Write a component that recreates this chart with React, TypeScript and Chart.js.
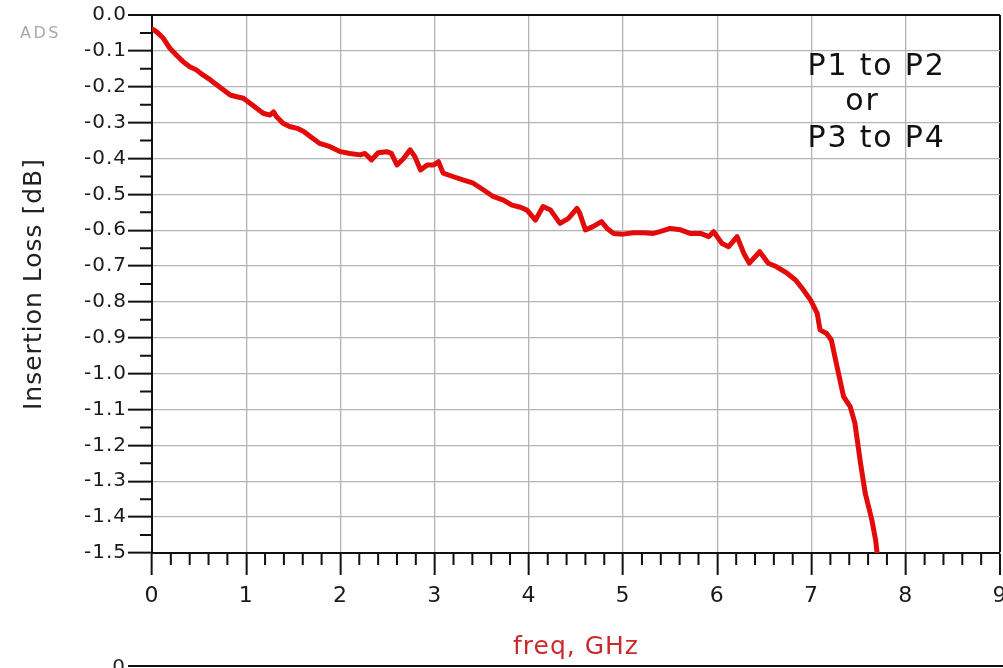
import React, { useEffect, useRef } from "react";
import { Chart, registerables } from "chart.js";

Chart.register(...registerables);

// ---- data ----
const freqGHz = [
  0.01, 0.05, 0.12, 0.19, 0.26, 0.33, 0.4, 0.47, 0.54, 0.62, 0.69, 0.76, 0.83, 0.9, 0.97,
  1.04, 1.11, 1.18, 1.25, 1.29, 1.32, 1.39, 1.46, 1.54, 1.61, 1.68, 1.78, 1.89,
  2.0, 2.1, 2.21, 2.26, 2.33, 2.4, 2.49, 2.54, 2.6, 2.67, 2.74, 2.79, 2.85, 2.92, 2.99,
  3.04, 3.09, 3.2, 3.3, 3.41, 3.52, 3.62, 3.73, 3.82, 3.91, 3.98,
  4.07, 4.15, 4.23, 4.33, 4.42, 4.51, 4.54, 4.6, 4.68, 4.77, 4.83, 4.9,
  5.0, 5.11, 5.22, 5.32, 5.39, 5.5, 5.61, 5.71, 5.82, 5.91, 5.96,
  6.05, 6.12, 6.21, 6.28, 6.34, 6.45, 6.54, 6.63, 6.74, 6.83, 6.9, 6.99,
  7.06, 7.09, 7.16, 7.21, 7.27, 7.34, 7.41, 7.46, 7.52, 7.57, 7.64, 7.68, 7.7,
];
const insertionLossDB = [
  -0.04, -0.047, -0.065, -0.093, -0.112, -0.13, -0.144, -0.153, -0.167, -0.181, -0.195, -0.209, -0.223, -0.228, -0.232,
  -0.246, -0.26, -0.274, -0.279, -0.27, -0.283, -0.302, -0.311, -0.316, -0.325, -0.339, -0.358, -0.367,
  -0.381, -0.386, -0.39, -0.386, -0.404, -0.384, -0.381, -0.386, -0.418, -0.4, -0.376, -0.395, -0.432, -0.418, -0.418,
  -0.409, -0.441, -0.451, -0.46, -0.469, -0.488, -0.506, -0.516, -0.53, -0.536, -0.544,
  -0.572, -0.534, -0.544, -0.581, -0.567, -0.539, -0.553, -0.599, -0.59, -0.576, -0.595, -0.609,
  -0.611, -0.607, -0.607, -0.609, -0.604, -0.595, -0.599, -0.609, -0.609, -0.618, -0.604,
  -0.637, -0.646, -0.618, -0.664, -0.692, -0.66, -0.692, -0.702, -0.72, -0.739, -0.762, -0.795,
  -0.832, -0.878, -0.888, -0.906, -0.98, -1.064, -1.092, -1.138, -1.25, -1.334, -1.408, -1.464, -1.51,
];
const annotationLines = ["P1 to P2", "or", "P3 to P4"];
const xAxisTitle = "freq, GHz";
const yAxisTitle = "Insertion Loss [dB]";
const logoText = "ADS";
const X_MIN = 0;
const X_MAX = 9;
const Y_MIN = -1.5;
const Y_MAX = 0;

const FONT = "'DejaVu Sans', Verdana, sans-serif";

const decorPlugin = {
  id: "decor",
  beforeDraw(chart: any) {
    chart.ctx.letterSpacing = "1px";
  },
  afterDraw(chart: any) {
    const ctx = chart.ctx;
    const xs = chart.scales.x;
    const ys = chart.scales.y;
    const area = chart.chartArea;
    ctx.save();
    // minor ticks
    ctx.strokeStyle = "#111";
    ctx.lineWidth = 2;
    ctx.beginPath();
    for (let i = 1; i < 30; i += 2) {
      const py = ys.getPixelForValue(-i * 0.05);
      ctx.moveTo(area.left - 12, py);
      ctx.lineTo(area.left, py);
    }
    for (let i = 1; i < 45; i++) {
      if (i % 5 === 0) continue;
      const px = xs.getPixelForValue(i * 0.2);
      ctx.moveTo(px, area.bottom);
      ctx.lineTo(px, area.bottom + 12);
    }
    ctx.stroke();

    // annotation text
    ctx.fillStyle = "#111";
    ctx.font = `30px ${FONT}`;
    ctx.letterSpacing = "1.8px";
    ctx.textAlign = "center";
    ctx.textBaseline = "alphabetic";
    const cx = [7.69, 7.54, 7.69];
    const by = [-0.167, -0.265, -0.368];
    annotationLines.forEach((t, i) => {
      ctx.fillText(t, xs.getPixelForValue(cx[i]), ys.getPixelForValue(by[i]));
    });

    // ADS logo
    ctx.font = `16px ${FONT}`;
    ctx.letterSpacing = "2.5px";
    ctx.fillStyle = "#a9a9a9";
    ctx.textAlign = "left";
    ctx.fillText(logoText, 20, 38);

    // remnant of the next plot below
    ctx.font = `20px ${FONT}`;
    ctx.letterSpacing = "1px";
    ctx.fillStyle = "#222";
    ctx.textAlign = "right";
    ctx.textBaseline = "middle";
    ctx.fillText("0", area.left - 26, 668);
    ctx.strokeStyle = "#111";
    ctx.lineWidth = 2;
    ctx.beginPath();
    ctx.moveTo(area.left - 24, 666);
    ctx.lineTo(chart.width, 666);
    ctx.stroke();
    ctx.restore();
  },
};

export default function App() {
  const canvasRef = useRef<HTMLCanvasElement | null>(null);

  useEffect(() => {
    if (!canvasRef.current) return;
    const points = freqGHz.map((f, i) => ({ x: f, y: insertionLossDB[i] }));
    const chart = new Chart(canvasRef.current, {
      type: "line",
      data: {
        datasets: [
          {
            label: "S21",
            data: points,
            borderColor: "#e30a0a",
            borderWidth: 5,
            borderJoinStyle: "round",
            borderCapStyle: "round",
            pointRadius: 0,
            tension: 0,
            fill: false,
          },
        ],
      },
      options: {
        animation: false,
        responsive: true,
        maintainAspectRatio: false,
        layout: { padding: { top: 15, right: 3, left: 0, bottom: 0 }, autoPadding: false },
        plugins: { legend: { display: false }, tooltip: { enabled: false }, title: { display: false } },
        scales: {
          x: {
            type: "linear",
            min: X_MIN,
            max: X_MAX,
            afterFit: (s: any) => {
              s.height = 115;
              s.paddingLeft = 0;
              s.paddingRight = 0;
            },
            ticks: {
              stepSize: 1,
              autoSkip: false,
              maxRotation: 0,
              padding: 8,
              color: "#1a1a1a",
              font: { family: FONT, size: 22 },
              callback: (v: any) => String(v),
            },
            grid: {
              color: (c: any) => (c.tick && c.tick.value === X_MAX ? "#111" : "#b4b4b4"),
              lineWidth: (c: any) => (c.tick && c.tick.value === X_MAX ? 2 : 1.3),
              drawTicks: true,
              tickLength: 22,
              tickColor: "#111",
              tickWidth: 2,
            },
            border: { display: true, color: "#111", width: 2 },
            title: {
              display: true,
              text: xAxisTitle,
              color: "#cc2a2a",
              font: { family: FONT, size: 25 },
              padding: { top: 0, bottom: 6 },
            },
          },
          y: {
            type: "linear",
            min: Y_MIN,
            max: Y_MAX,
            afterFit: (s: any) => {
              s.width = 152;
              s.paddingTop = 0;
              s.paddingBottom = 0;
            },
            ticks: {
              stepSize: 0.1,
              autoSkip: false,
              padding: 1,
              color: "#1a1a1a",
              font: { family: FONT, size: 20 },
              callback: (v: any) => Number(v).toFixed(1),
            },
            grid: {
              color: (c: any) => (c.tick && c.tick.value === Y_MAX ? "#111" : "#b4b4b4"),
              lineWidth: (c: any) => (c.tick && c.tick.value === Y_MAX ? 2 : 1.3),
              drawTicks: true,
              tickLength: 24,
              tickColor: "#111",
              tickWidth: 2,
            },
            border: { display: true, color: "#111", width: 2 },
            title: {
              display: true,
              text: yAxisTitle,
              color: "#222",
              font: { family: FONT, size: 25 },
              padding: { top: 19, bottom: 0 },
            },
          },
        },
      },
      plugins: [decorPlugin],
    } as any);
    return () => chart.destroy();
  }, []);

  return (
    <div
      style={{
        position: "absolute",
        left: 0,
        top: 0,
        width: 1003,
        height: 668,
        background: "#fff",
      }}
    >
      <canvas ref={canvasRef} />
    </div>
  );
}
